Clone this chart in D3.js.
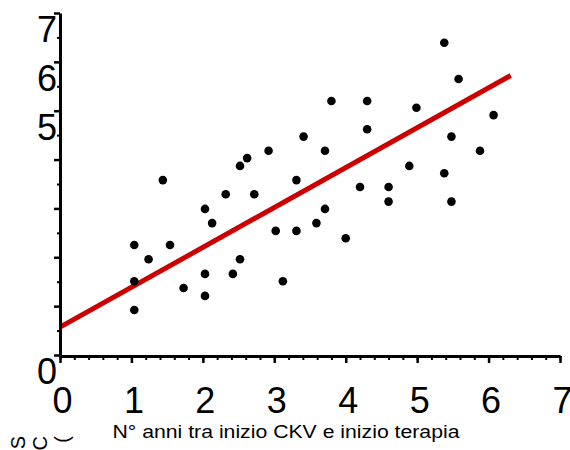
<!DOCTYPE html>
<html lang="it">
<head>
    <meta charset="UTF-8">
    <title>Scatter con retta di regressione</title>
    <style>
        body {
            margin: 0;
            padding: 0;
            background: #fff;
            font-family: "Liberation Sans", Arial, sans-serif;
        }

        svg {
            display: block;
        }

        .axis path, .axis line {
            stroke: #000;
        }

        .axis text {
            font-family: "Liberation Sans", Arial, sans-serif;
            fill: #000;
        }
    </style>
</head>
<body>
<svg id="chart"></svg>

<script src="https://d3js.org/d3.v7.min.js"></script>
<script>
    // anni tra inizio CKV e inizio terapia (x) e valore misurato (y)
    var xValues = [1.04, 1.24, 1.04, 1.04, 1.44, 1.54, 1.73, 2.03, 2.13, 2.03, 2.03,
        2.32, 2.52, 2.62, 2.72, 2.92, 2.52, 2.42, 3.02, 3.12, 3.31, 3.31, 3.41, 3.59,
        5.38, 5.58, 3.80, 4.30, 4.99, 6.07, 4.30, 5.48, 3.71, 5.88, 4.89, 5.38, 4.20,
        4.60, 4.60, 5.48, 3.71, 4.00];
    var yValues = [2.25, 1.96, 1.51, 0.92, 3.58, 2.25, 1.37, 2.99, 2.70, 1.66, 1.21,
        3.29, 3.87, 4.03, 3.29, 4.18, 1.96, 1.66, 2.54, 1.51, 3.58, 2.54, 4.47, 2.70,
        6.39, 5.65, 5.20, 5.20, 5.06, 4.91, 4.62, 4.47, 4.18, 4.18, 3.87, 3.72, 3.44,
        3.44, 3.14, 3.14, 2.99, 2.39];

    // retta di regressione (estremi)
    var fitX = [0, 6.31];
    var fitY = [0.57, 5.72];

    var xTicks = [0, 1, 2, 3, 4, 5, 6, 7];
    var xMinorTicks = d3.range(0, 7.01, 0.2);
    var yTicks = [0, 1, 2, 3, 4, 5, 6, 7];
    var yMinorTicks = d3.range(0.5, 7, 1);
    var yLabelTicks = [0, 5, 6, 7];

    var xTitle = "N° anni tra inizio CKV e inizio terapia";
    var yTitleLines = ["S", "C", "("];

    var width = 570, height = 450;
    var margin = {top: 13, right: 10, bottom: 95, left: 60};

    var svg = d3.select("#chart")
        .attr("width", width)
        .attr("height", height);

    var x = d3.scaleLinear()
        .domain([0, 7])
        .range([margin.left, 560]);

    var y = d3.scaleLinear()
        .domain([0, 7])
        .range([355, margin.top]);

    var data = xValues.map(function (d, i) {
        return {x: d, y: yValues[i]};
    });

    // minor ticks
    svg.append("g")
        .attr("class", "axis")
        .attr("transform", "translate(0,356)")
        .call(d3.axisBottom(x).tickValues(xMinorTicks).tickSize(4).tickSizeOuter(0).tickFormat(""))
        .call(function (g) {
            g.select(".domain").remove();
            g.selectAll("line").attr("stroke-width", 2);
        });

    svg.append("g")
        .attr("class", "axis")
        .attr("transform", "translate(" + margin.left + ",0)")
        .call(d3.axisLeft(y).tickValues(yMinorTicks).tickSize(3).tickSizeOuter(0).tickFormat(""))
        .call(function (g) {
            g.select(".domain").remove();
            g.selectAll("line").attr("stroke-width", 2);
        });

    // regression line
    var line = d3.line()
        .x(function (d) { return x(d[0]); })
        .y(function (d) { return y(d[1]); });

    svg.append("path")
        .datum(fitX.map(function (d, i) { return [d, fitY[i]]; }))
        .attr("d", line)
        .attr("fill", "none")
        .attr("stroke", "#cc0000")
        .attr("stroke-width", 5);

    // major axes
    svg.append("g")
        .attr("class", "axis")
        .attr("transform", "translate(0,356)")
        .call(d3.axisBottom(x).tickValues(xTicks).tickSize(7).tickSizeOuter(0).tickFormat(d3.format("d")))
        .call(function (g) {
            g.select(".domain").attr("stroke-width", 3);
            g.selectAll("line").attr("stroke-width", 2.5);
            g.selectAll("text")
                .attr("font-size", 36)
                .attr("y", 31)
                .attr("dx", 2);
        });

    svg.append("g")
        .attr("class", "axis")
        .attr("transform", "translate(" + margin.left + ",0)")
        .call(d3.axisLeft(y).tickValues(yTicks).tickSize(6).tickSizeOuter(0)
            .tickFormat(function (d) {
                return yLabelTicks.indexOf(d) >= 0 ? d3.format("d")(d) : "";
            }))
        .call(function (g) {
            g.select(".domain").attr("stroke-width", 3);
            g.selectAll("line").attr("stroke-width", 2.5);
            g.selectAll("text")
                .attr("font-size", 36)
                .attr("x", -3)
                .attr("dy", "0.8em");
        });

    // points
    svg.selectAll("circle.pt")
        .data(data)
        .enter()
        .append("circle")
        .attr("class", "pt")
        .attr("cx", function (d) { return x(d.x); })
        .attr("cy", function (d) { return y(d.y); })
        .attr("r", 4.3)
        .attr("fill", "#000");

    // axis titles
    svg.append("text")
        .attr("x", 286)
        .attr("y", 438)
        .attr("text-anchor", "middle")
        .attr("font-size", 17.5)
        .attr("textLength", 347)
        .attr("lengthAdjust", "spacingAndGlyphs")
        .text(xTitle);

    svg.selectAll("text.ytitle")
        .data(yTitleLines)
        .enter()
        .append("text")
        .attr("class", "ytitle")
        .attr("font-size", 20)
        .attr("text-anchor", "end")
        .attr("transform", function (d, i) {
            return "translate(" + (25 + i * 22) + ",436) rotate(-90)";
        })
        .text(function (d) { return d; });
</script>
</body>
</html>
